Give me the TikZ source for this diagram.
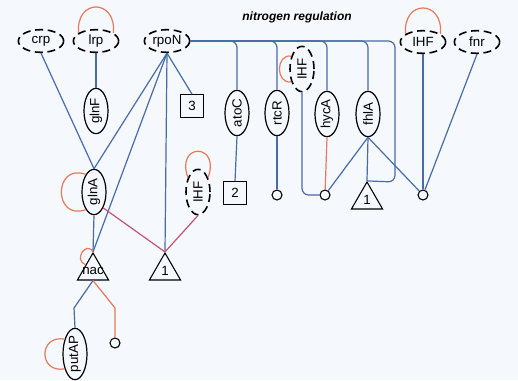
\documentclass[tikz,border=0pt]{standalone}
\usepackage{fontspec}
\setmainfont{Liberation Sans}
\usepackage{graphicx}
\usepackage{tikz}
\usetikzlibrary{shapes.geometric,calc}
\definecolor{paper}{RGB}{245,248,252}
\definecolor{actblue}{RGB}{72,108,168}
\definecolor{reporange}{RGB}{232,122,92}
\definecolor{duopink}{RGB}{198,82,116}
\tikzset{gene/.style={ellipse,draw,line width=0.9pt,inner sep=1pt,minimum width=34pt,minimum height=17pt,fill=paper}}
\tikzset{dgene/.style={gene,line width=1.2pt,dash pattern=on 6pt off 3.5pt}}
\tikzset{vgene/.style={ellipse,draw,line width=0.9pt,inner sep=0pt,minimum width=18pt,minimum height=34pt,fill=paper}}
\tikzset{dvgene/.style={vgene,line width=1.2pt,dash pattern=on 6pt off 3.5pt}}
\tikzset{sqbox/.style={draw,line width=0.8pt,minimum size=17pt,inner sep=0pt}}
\tikzset{dot/.style={circle,draw,line width=0.8pt,minimum size=7.5pt,inner sep=0pt}}
\tikzset{tri/.style={regular polygon,regular polygon sides=3,draw,line width=0.8pt,minimum size=27pt,inner sep=0pt}}
\tikzset{act/.style={draw=actblue,line width=0.9pt}}
\tikzset{rep/.style={draw=reporange,line width=0.9pt}}
\tikzset{duo/.style={draw=duopink,line width=0.9pt}}

\begin{document}
\begin{tikzpicture}
[x=0.75pt,y=0.75pt]
\fill[paper] (0,0) rectangle (518,380);
\useasboundingbox (0,0) rectangle (518,380);

\node (title) at (297,363){\fontsize{9}{11}\selectfont\bfseries\itshape nitrogen regulation};
\node (crp) at (41,339)[dgene]{crp};
\node (lrp) at (96,339)[dgene]{lrp};
\node (rpoN) at (167,339)[dgene]{rpoN};
\node (IHFt) at (423,338)[dgene]{IHF};
\node (fnr) at (477,338)[dgene]{fnr};
\node (glnF) at (96,269)[vgene]{\rotatebox{90}{glnF}};
\node (sq3) at (192,274)[sqbox]{3};
\node (atoC) at (237,267)[vgene]{\rotatebox{90}{atoC}};
\node (rtcR) at (277,267)[vgene]{\rotatebox{90}{rtcR}};
\node (IHFm) at (302,311)[dvgene]{\rotatebox{90}{IHF}};
\node (hycA) at (327,266)[vgene]{\rotatebox{90}{hycA}};
\node (fhlA) at (368,266)[vgene]{\rotatebox{90}{fhlA}};
\node (glnA) at (94,188)[vgene]{\rotatebox{90}{glnA}};
\node (IHFs) at (198,188)[dvgene]{\rotatebox{90}{IHF}};
\node (sq2) at (235,187)[sqbox]{2};
\node (c1) at (277,185)[dot]{};
\node (c2) at (325,185)[dot]{};
\node (c3) at (423,185)[dot]{};
\node (tri2) at (367,180)[tri]{1};
\node (tri1) at (165,109)[tri]{1};
\node (nac) at (93,109)[tri]{\makebox[0pt]{nac}};
\node (putAP) at (75,26)[vgene]{\rotatebox{90}{putAP}};
\node (c0) at (115,37)[dot]{};
\coordinate (fbend) at (395,198);
\coordinate (pbend) at (74,72);
\coordinate (cbend) at (115,72);

\draw[act] (crp.south) -- (glnA.north);
\draw[act] (lrp.south) -- (glnF.north);
\draw[act] (rpoN.south) -- (glnA.north);
\draw[act] (rpoN.south) -- (nac.north);
\draw[act] (rpoN.south) -- (tri1.north);
\draw[act] (rpoN.south) -- (sq3.north);
\draw[act] (glnA.south) -- (nac.north);
\draw[duo] (glnA.-60) -- (tri1.north);
\draw[duo] (IHFs.south) -- (tri1.north);
\draw[act,rounded corners=5pt] (rpoN.east) -| (atoC.north);
\draw[act,rounded corners=5pt] (rpoN.east) -| (rtcR.north);
\draw[act,rounded corners=5pt] (rpoN.east) -| (hycA.north);
\draw[act,rounded corners=5pt] (rpoN.east) -| (fhlA.north);
\draw[act,rounded corners=5pt] (rpoN.east) -| (fbend) -- (tri2.north);
\draw[act,rounded corners=5pt] (IHFm.south) |- (c2.west);
\draw[act] (atoC.south) -- (sq2.north);
\draw[act] (rtcR.south) -- (c1);
\draw[rep] (hycA.south) -- (c2);
\draw[act] (fhlA.south) -- (c2);
\draw[act] (fhlA.south) -- (tri2.north);
\draw[act] (fhlA.south) -- (c3);
\draw[act] (IHFt.south) -- (c3);
\draw[act] (fnr.south) -- (c3);
\draw[act] (nac.south) -- (pbend) -- (putAP.north);
\draw[rep] (nac.south) -- (cbend) -- (c0);

\draw[rep] (lrp.155) to[out=95,in=85,distance=26pt] (lrp.25);
\draw[rep] (IHFt.155) to[out=95,in=85,distance=26pt] (IHFt.25);
\draw[rep] (glnA.115) to[out=160,in=200,distance=26pt] (glnA.245);
\draw[rep] (putAP.125) to[out=170,in=190,distance=20pt] (putAP.235);
\draw[rep] (IHFs.125) to[out=110,in=70,distance=28pt] (IHFs.55);
\draw[rep] (IHFm.130) to[out=170,in=190,distance=12pt] (IHFm.230);
\draw[rep] (nac.140) to[out=160,in=120,distance=10pt] (nac.north);
\end{tikzpicture}
\end{document}
